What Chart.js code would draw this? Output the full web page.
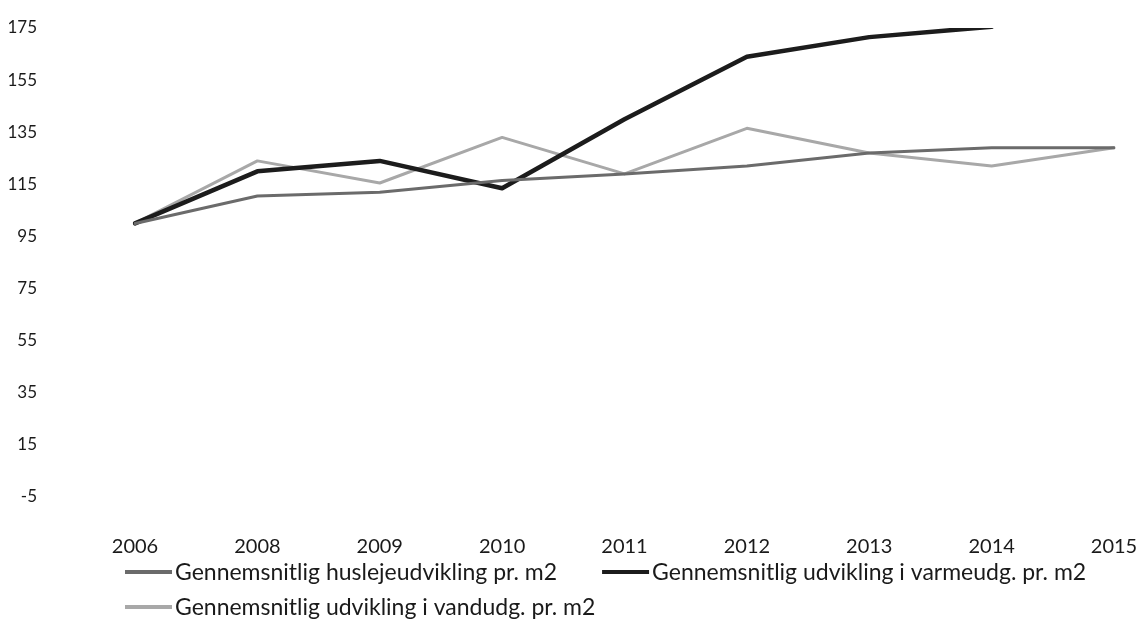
<!DOCTYPE html>
<html>
<head>
<meta charset="utf-8">
<script src="https://cdn.jsdelivr.net/npm/chart.js@4/dist/chart.umd.min.js"></script>
<style>
    html, body { margin: 0; padding: 0; background: #fff; }
    #wrap { width: 1138px; height: 626px; }
</style>
</head>
<body>
<div id="wrap"><canvas id="chart"></canvas></div>
<script>
const years = ['2006', '2008', '2009', '2010', '2011', '2012', '2013', '2014', '2015'];
const huslejeValues = [100, 110.5, 112, 116.5, 119, 122, 127, 129, 129];
const varmeValues = [100, 120, 124, 113.5, 140, 164, 171.5, 175.5, null];
const vandValues = [100, 124, 115.5, 133, 119, 136.5, 127, 122, 129];
const seriesNames = [
    'Gennemsnitlig huslejeudvikling pr. m2',
    'Gennemsnitlig udvikling i varmeudg. pr. m2',
    'Gennemsnitlig udvikling i vandudg. pr. m2',
];

const FONT = 'Lato, "Open Sans", sans-serif';
const TEXT_COLOR = '#1a1a1a';

// left aligned legend under the plot, two rows like the original
const LEGEND_LEFT = 125;
const LEGEND_MAX_RIGHT = 1110;
const LEGEND_ROW_Y = 572;
const LEGEND_ROW_GAP = 35;
const LEGEND_MARK = 47;
const LEGEND_ITEM_GAP = 45;
const LEGEND_FONT = '23px ' + FONT;

const bottomLegend = {
    id: 'bottomLegend',
    afterDraw(chart) {
        const ctx = chart.ctx;
        ctx.save();
        ctx.font = LEGEND_FONT;
        ctx.textBaseline = 'middle';
        ctx.textAlign = 'left';
        let x = LEGEND_LEFT;
        let y = LEGEND_ROW_Y;
        chart.data.datasets.forEach((ds) => {
            const w = LEGEND_MARK + 3 + ctx.measureText(ds.label).width;
            if (x > LEGEND_LEFT && x + w > LEGEND_MAX_RIGHT) {
                x = LEGEND_LEFT;
                y += LEGEND_ROW_GAP;
            }
            ctx.strokeStyle = ds.borderColor;
            ctx.lineWidth = 4;
            ctx.beginPath();
            ctx.moveTo(x, y);
            ctx.lineTo(x + LEGEND_MARK, y);
            ctx.stroke();
            ctx.fillStyle = TEXT_COLOR;
            ctx.fillText(ds.label, x + LEGEND_MARK + 3, y + 1);
            x += w + LEGEND_ITEM_GAP;
        });
        ctx.restore();
    },
};

function line(label, data, color, width) {
    return {
        label: label,
        data: data,
        borderColor: color,
        backgroundColor: color,
        borderWidth: width,
        pointRadius: 0,
        tension: 0,
        borderJoinStyle: 'round',
        borderCapStyle: 'round',
    };
}

new Chart(document.getElementById('chart'), {
    type: 'line',
    plugins: [bottomLegend],
    data: {
        labels: years,
        datasets: [
            line(seriesNames[0], huslejeValues, '#6b6b6b', 3),
            line(seriesNames[1], varmeValues, '#1c1c1c', 4.5),
            line(seriesNames[2], vandValues, '#a8a8a8', 3),
        ],
    },
    options: {
        responsive: true,
        maintainAspectRatio: false,
        animation: false,
        events: [],
        layout: {
            padding: { top: 28, left: 8, right: 0, bottom: 29 },
        },
        scales: {
            x: {
                offset: false,
                grid: { display: false, drawTicks: false },
                border: { display: false },
                ticks: {
                    color: TEXT_COLOR,
                    font: { family: FONT, size: 20 },
                    padding: 38,
                    autoSkip: false,
                    maxRotation: 0,
                },
                // big tick padding would otherwise eat the side margins
                afterFit(scale) {
                    scale.paddingLeft = 24;
                    scale.paddingRight = 24;
                },
            },
            y: {
                min: -5,
                max: 175,
                grid: { display: false, drawTicks: false },
                border: { display: false },
                ticks: {
                    stepSize: 20,
                    color: TEXT_COLOR,
                    font: { family: FONT, size: 17 },
                    padding: 98,
                },
                afterFit(scale) {
                    scale.width = 127;
                    scale.paddingTop = 10;
                    scale.paddingBottom = 10;
                },
            },
        },
        plugins: {
            tooltip: { enabled: false },
            legend: { display: false },
        },
    },
});
</script>
</body>
</html>
